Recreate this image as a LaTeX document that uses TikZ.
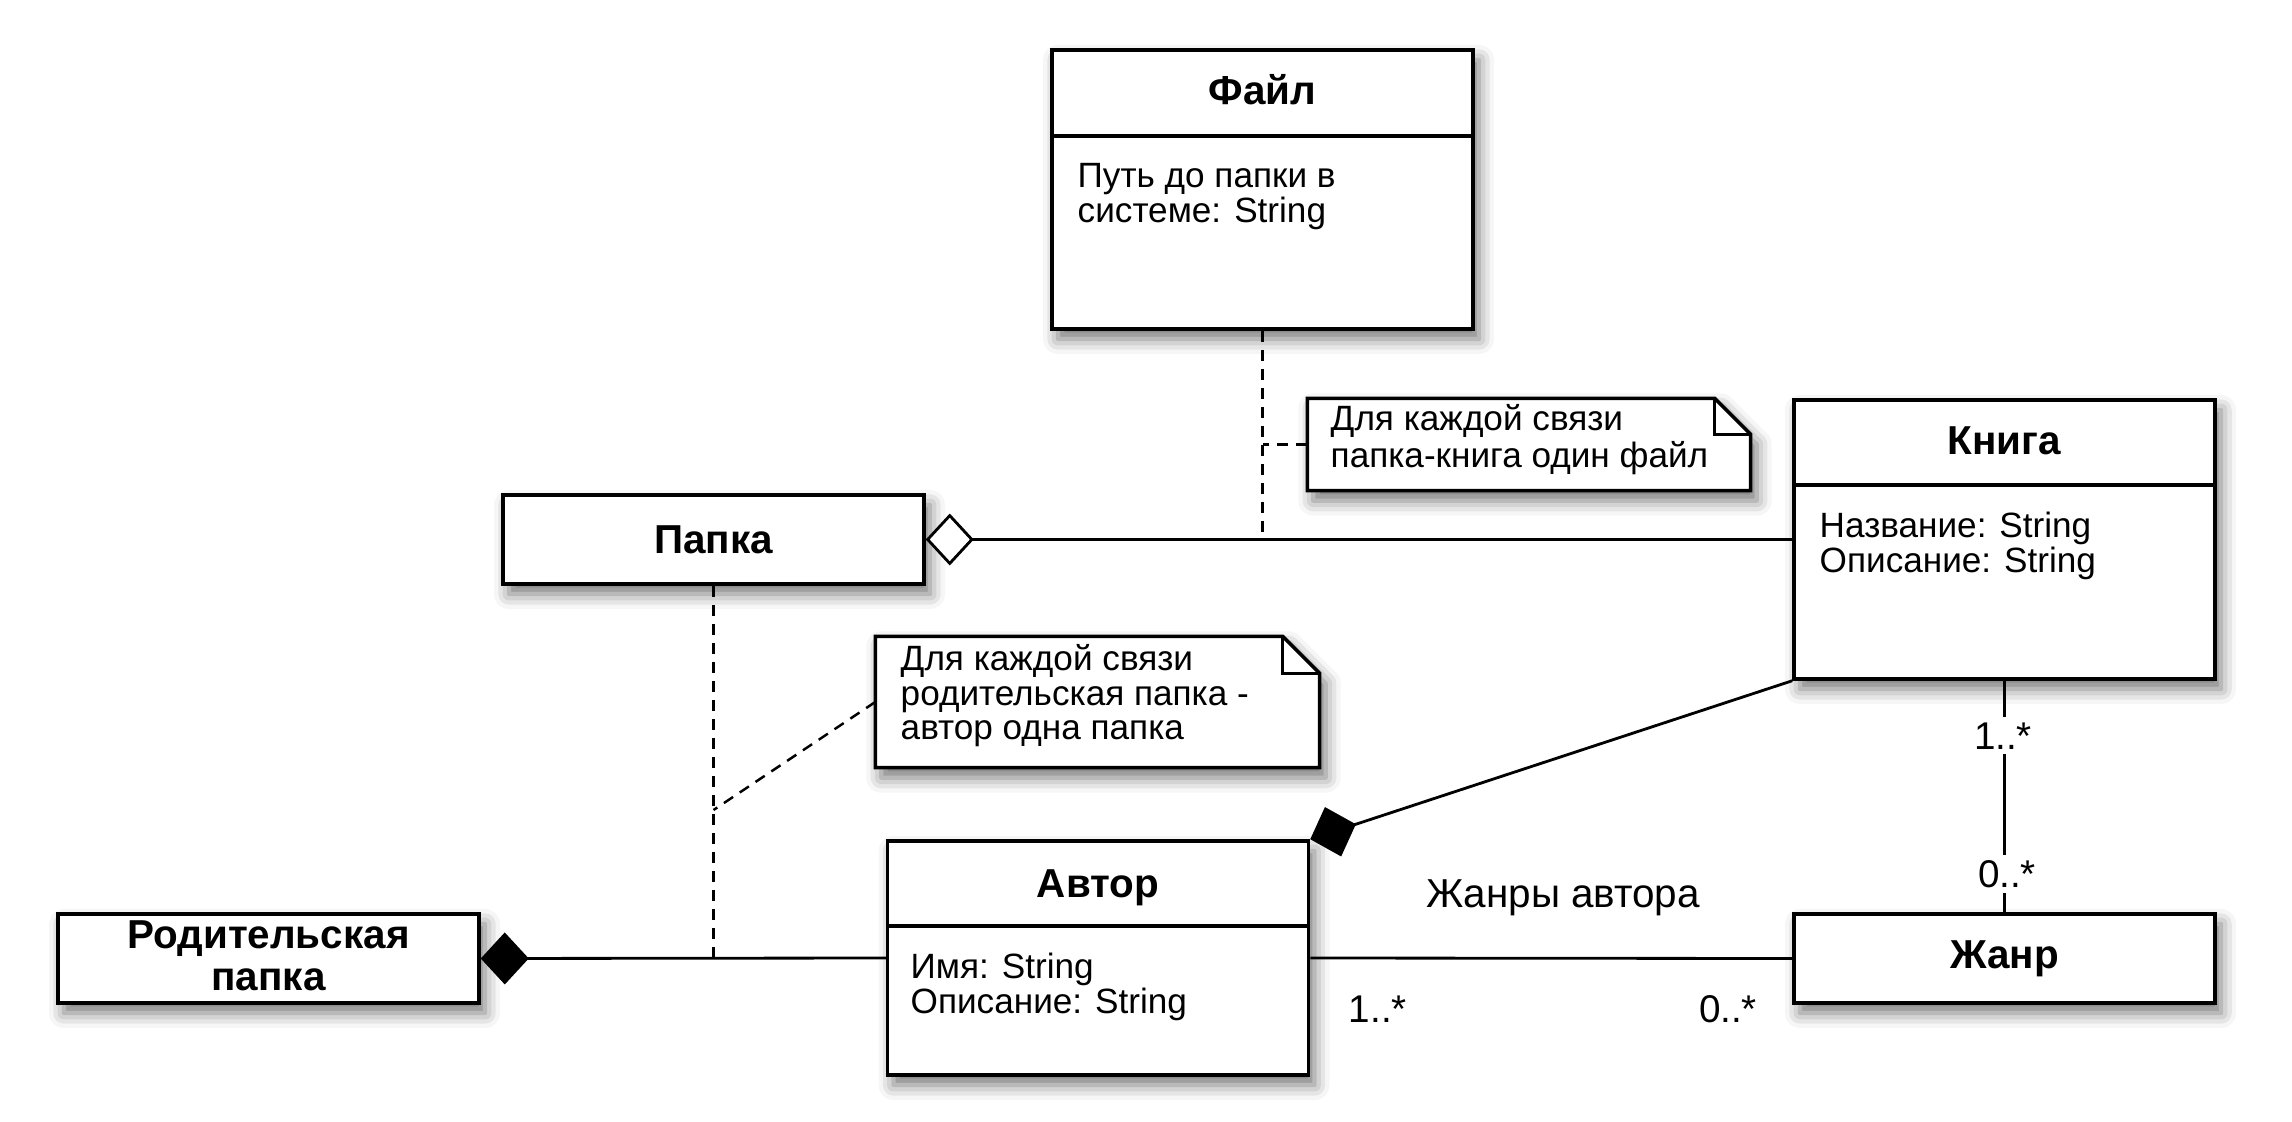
\documentclass[tikz,border=0pt]{standalone}
\usepackage{fontspec}
\setmainfont{Liberation Sans}
\usetikzlibrary{arrows.meta,shadows.blur}
\tikzset{
  comptip/.tip={Diamond[length=4.8mm,width=5.2mm,fill=black,line join=miter]},
  aggrtip/.tip={Diamond[length=4.8mm,width=5.2mm,fill=white,line join=miter]}
}
\begin{document}
\begin{tikzpicture}[x=0.1mm,y=-0.1mm,
  shd/.style={blur shadow={shadow xshift=0.6mm,shadow yshift=-1.0mm,shadow blur radius=1.5mm,shadow opacity=55}},
  cls/.style={draw=black,line width=1pt,fill=white,inner sep=0pt,minimum width=42.1mm,shd},
  divl/.style={line width=1pt},
  ttl/.style={font=\fontsize{11.5}{12.5}\selectfont\bfseries,inner sep=0pt,anchor=base},
  attr/.style={font=\fontsize{10}{10}\selectfont,inner sep=0pt,anchor=base west},
  lbl/.style={font=\fontsize{11.5}{11.5}\selectfont,inner sep=0pt,anchor=base},
  mult/.style={font=\fontsize{11}{11}\selectfont,inner sep=1.5pt,fill=white,anchor=base},
  conn/.style={draw=black,line width=0.8pt},
  dsh/.style={line width=0.7pt,dash pattern=on 1.1mm off 0.8mm},
  notebox/.style={inner sep=0pt},
  notel/.style={draw=black,line width=1pt,fill=white,line join=miter,shd},
  foldl/.style={line width=1pt,line join=miter}
]
\useasboundingbox (0,0) rectangle (2292,1122);

% ---- classes ----
\node[cls,minimum height=27.9mm] (fajl) at (1262.5,189.5) {};
\draw[divl] ([yshift=-8.8mm]fajl.north west) -- ([yshift=-8.8mm]fajl.north east);
\node[ttl] (fajlT) at (1262.5,105) {Файл};
\node[attr] (fajlA1) at (1077,188) {Путь до папки в};
\node[attr] (fajlA2) at (1077,223) {системе: String};

\node[cls,minimum height=27.9mm] (kniga) at (2004.5,539.5) {};
\draw[divl] ([yshift=-8.7mm]kniga.north west) -- ([yshift=-8.7mm]kniga.north east);
\node[ttl] (knigaT) at (2004.5,455) {Книга};
\node[attr] (knigaA1) at (1819,537) {Название: String};
\node[attr] (knigaA2) at (1819,572) {Описание: String};

\node[cls,minimum height=8.9mm] (papka) at (713.5,539.5) {};
\node[ttl] (papkaT) at (713.5,553) {Папка};

\node[cls,minimum height=8.9mm] (rod) at (268.5,958.5) {};
\node[ttl] (rodT1) at (268.5,948) {Родительская};
\node[ttl] (rodT2) at (268.5,990) {папка};

\node[cls,minimum height=23.4mm] (avtor) at (1098,958) {};
\draw[divl] ([yshift=-8.7mm]avtor.north west) -- ([yshift=-8.7mm]avtor.north east);
\node[ttl] (avtorT) at (1098,897) {Автор};
\node[attr] (avtorA1) at (910,978) {Имя: String};
\node[attr] (avtorA2) at (910,1013) {Описание: String};

\node[cls,minimum height=8.9mm] (zhanr) at (2004.5,958.5) {};
\node[ttl] (zhanrT) at (2004.5,968) {Жанр};

% ---- notes ----
\node[notebox,minimum width=44.2mm,minimum height=9.1mm] (n1) at (1529,444.5) {};
\path[notel] (n1.north west) -- ([xshift=-3.6mm]n1.north east) -- ([yshift=-3.6mm]n1.north east) -- (n1.south east) -- (n1.south west) -- cycle;
\draw[foldl] ([xshift=-3.6mm]n1.north east) -- ([xshift=-3.6mm,yshift=-3.6mm]n1.north east) -- ([yshift=-3.6mm]n1.north east);
\node[attr] (n1a) at (1330,430) {Для каждой связи};
\node[attr] (n1b) at (1330,467) {папка-книга один файл};

\node[notebox,minimum width=44.3mm,minimum height=13.0mm] (n2) at (1097.5,702) {};
\path[notel] (n2.north west) -- ([xshift=-3.7mm]n2.north east) -- ([yshift=-3.7mm]n2.north east) -- (n2.south east) -- (n2.south west) -- cycle;
\draw[foldl] ([xshift=-3.7mm]n2.north east) -- ([xshift=-3.7mm,yshift=-3.7mm]n2.north east) -- ([yshift=-3.7mm]n2.north east);
\node[attr] (n2a) at (900,670) {Для каждой связи};
\node[attr] (n2b) at (900,705) {родительская папка -};
\node[attr] (n2c) at (900,739) {автор одна папка};

% ---- connectors ----
\coordinate (j1) at (fajl.south |- papka.east);
\coordinate (j2) at (713.5,810);
\coordinate (j3) at (papka.south |- rod.east);

\draw[conn,{aggrtip}-] (papka.east) -- (kniga.west);
\draw[dsh] (fajl.south) -- (j1);
\draw[dsh] (n1.west) -- (n1.west -| fajl.south);

\draw[conn,{comptip}-] (rod.east) -- (avtor.west);
\draw[dsh] (papka.south) -- (j3);
\draw[dsh] (n2.west) -- (j2);

\draw[conn,-{comptip}] (kniga.south west) -- (avtor.north east);
\draw[conn] (avtor.east) -- (zhanr.west);
\draw[conn] (kniga.south) -- (zhanr.north);

% ---- labels ----
\node[mult] (m1) at (2003,749) {1..*};
\node[mult] (m2) at (2007,887) {0..*};
\node[mult] (m3) at (1378,1022) {1..*};
\node[mult] (m4) at (1728,1022) {0..*};
\node[lbl] (rel) at (1563,907) {Жанры автора};
\end{tikzpicture}
\end{document}
